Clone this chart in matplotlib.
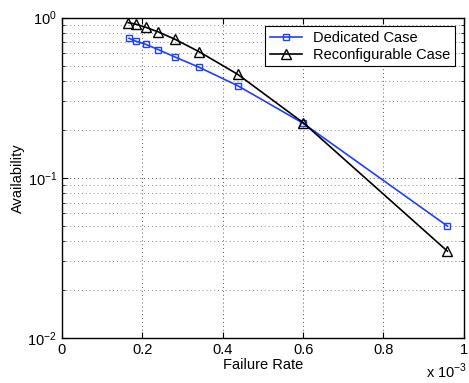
import numpy as np
import matplotlib
matplotlib.use('Agg')
import matplotlib.pyplot as plt
from matplotlib.ticker import LogLocator, NullFormatter

plt.rcParams['font.family'] = ['Liberation Sans', 'DejaVu Sans']
plt.rcParams['mathtext.fontset'] = 'custom'
plt.rcParams['mathtext.rm'] = 'Liberation Sans'

# ---> data (failure rate in units of 1e-3)
rate_ded = [0.167, 0.184, 0.208, 0.240, 0.281, 0.341, 0.437, 0.600, 0.959]
avail_ded = [0.743, 0.712, 0.682, 0.631, 0.568, 0.490, 0.376, 0.219, 0.0499]
rate_rec = [0.165, 0.184, 0.208, 0.240, 0.281, 0.341, 0.437, 0.600, 0.959]
avail_rec = [0.930, 0.910, 0.871, 0.814, 0.733, 0.613, 0.443, 0.221, 0.0348]

fig = plt.figure(figsize=(4.69, 3.83), dpi=100)
ax = fig.add_axes([0.132, 0.118, 0.857, 0.836])

ax.semilogy(rate_ded, avail_ded, color='#1f3fff', marker='s', markersize=5,
            markerfacecolor='none', markeredgewidth=1, linewidth=1.2, label='Dedicated Case')
ax.semilogy(rate_rec, avail_rec, color='black', marker='^', markersize=7,
            markerfacecolor='none', markeredgewidth=1, linewidth=1.2, label='Reconfigurable Case')

ax.set_xlim(0, 1)
ax.set_ylim(1e-2, 1)
ax.set_xticks([0, 0.2, 0.4, 0.6, 0.8, 1])
ax.set_xticklabels(['0', '0.2', '0.4', '0.6', '0.8', '1'])
ax.yaxis.set_minor_locator(LogLocator(base=10, subs=np.arange(2, 10)))
ax.yaxis.set_minor_formatter(NullFormatter())

ax.grid(True, which='major', linestyle=(0, (1, 3)), color='#555555', linewidth=0.7)
ax.grid(True, which='minor', axis='y', linestyle=(0, (1, 3)), color='#888888', linewidth=0.7)
ax.tick_params(which='both', direction='in', top=True, right=True, labelsize=10.5)
ax.tick_params(which='major', length=4)
ax.tick_params(which='minor', length=2)
for s in ax.spines.values():
    s.set_linewidth(1.0)

ax.set_xlabel('Failure Rate', fontsize=10.5, labelpad=1)
ax.set_ylabel('Availability', fontsize=10.5, labelpad=2)
fig.text(0.996, 0.03, r'x 10$^{-3}$', ha='right', va='center', fontsize=10.5)

leg = ax.legend(loc='upper right', fontsize=10.5, fancybox=False, framealpha=1,
                edgecolor='black', borderpad=0.3, handlelength=2.2, labelspacing=0.2,
                borderaxespad=0.6)
leg.get_frame().set_linewidth(0.8)

fig.savefig('out.png', dpi=100)
